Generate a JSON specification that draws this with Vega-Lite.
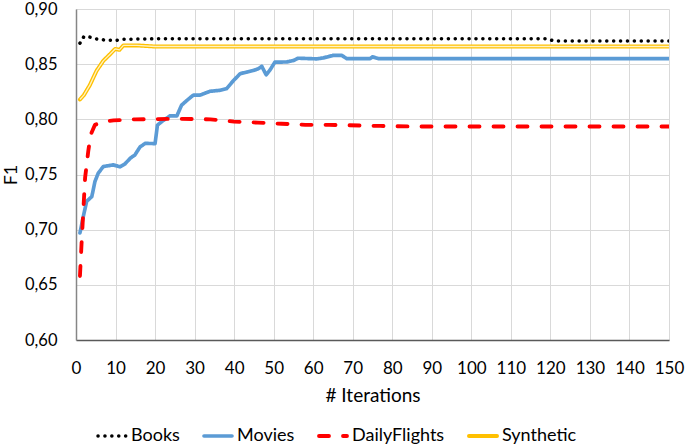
{
  "$schema": "https://vega.github.io/schema/vega-lite/v6.json",
  "width": 593,
  "height": 331,
  "autosize": "none",
  "padding": {"left": 76, "top": 9, "right": 16, "bottom": 106},
  "background": "white",
  "config": {
    "font": "Lato",
    "view": {"stroke": null},
    "axis": {"labelFont": "Lato", "titleFont": "Lato", "labelColor": "#000000", "titleColor": "#000000", "titleFontWeight": "normal", "gridColor": "#D9D9D9", "gridWidth": 1, "ticks": false}
  },
  "data": {"values": [
    {"s": "Books", "x": 1, "v": 0.869},
    {"s": "Books", "x": 2, "v": 0.875},
    {"s": "Books", "x": 3, "v": 0.875},
    {"s": "Books", "x": 5, "v": 0.873},
    {"s": "Books", "x": 7, "v": 0.872},
    {"s": "Books", "x": 10, "v": 0.8715},
    {"s": "Books", "x": 12, "v": 0.8725},
    {"s": "Books", "x": 20, "v": 0.873},
    {"s": "Books", "x": 119, "v": 0.873},
    {"s": "Books", "x": 121, "v": 0.871},
    {"s": "Books", "x": 150, "v": 0.871},

    {"s": "Movies", "x": 1, "v": 0.697},
    {"s": "Movies", "x": 1.85, "v": 0.712},
    {"s": "Movies", "x": 2.7, "v": 0.7257},
    {"s": "Movies", "x": 4, "v": 0.730},
    {"s": "Movies", "x": 4.8, "v": 0.7437},
    {"s": "Movies", "x": 5.6, "v": 0.751},
    {"s": "Movies", "x": 6.9, "v": 0.7572},
    {"s": "Movies", "x": 9.4, "v": 0.7587},
    {"s": "Movies", "x": 11.1, "v": 0.757},
    {"s": "Movies", "x": 12.4, "v": 0.7596},
    {"s": "Movies", "x": 13.7, "v": 0.7647},
    {"s": "Movies", "x": 14.9, "v": 0.7677},
    {"s": "Movies", "x": 16.2, "v": 0.775},
    {"s": "Movies", "x": 17.5, "v": 0.7782},
    {"s": "Movies", "x": 20, "v": 0.778},
    {"s": "Movies", "x": 20.6, "v": 0.7948},
    {"s": "Movies", "x": 22.1, "v": 0.799},
    {"s": "Movies", "x": 23.8, "v": 0.8032},
    {"s": "Movies", "x": 25.5, "v": 0.803},
    {"s": "Movies", "x": 26.7, "v": 0.8128},
    {"s": "Movies", "x": 28, "v": 0.817},
    {"s": "Movies", "x": 29.7, "v": 0.822},
    {"s": "Movies", "x": 31.4, "v": 0.822},
    {"s": "Movies", "x": 33.9, "v": 0.8254},
    {"s": "Movies", "x": 36.4, "v": 0.8263},
    {"s": "Movies", "x": 38.1, "v": 0.8278},
    {"s": "Movies", "x": 39.8, "v": 0.835},
    {"s": "Movies", "x": 41.5, "v": 0.8413},
    {"s": "Movies", "x": 43.2, "v": 0.8428},
    {"s": "Movies", "x": 44.9, "v": 0.8443},
    {"s": "Movies", "x": 46.1, "v": 0.8458},
    {"s": "Movies", "x": 47, "v": 0.848},
    {"s": "Movies", "x": 48.1, "v": 0.8404},
    {"s": "Movies", "x": 49, "v": 0.8443},
    {"s": "Movies", "x": 50.3, "v": 0.8518},
    {"s": "Movies", "x": 53.3, "v": 0.852},
    {"s": "Movies", "x": 55, "v": 0.8533},
    {"s": "Movies", "x": 56.2, "v": 0.8554},
    {"s": "Movies", "x": 60.9, "v": 0.8548},
    {"s": "Movies", "x": 62.6, "v": 0.8557},
    {"s": "Movies", "x": 65.1, "v": 0.858},
    {"s": "Movies", "x": 67.2, "v": 0.858},
    {"s": "Movies", "x": 68.5, "v": 0.855},
    {"s": "Movies", "x": 74.4, "v": 0.855},
    {"s": "Movies", "x": 75, "v": 0.8566},
    {"s": "Movies", "x": 76.5, "v": 0.855},
    {"s": "Movies", "x": 150, "v": 0.855},

    {"s": "DailyFlights", "x": 1, "v": 0.658},
    {"s": "DailyFlights", "x": 1.4, "v": 0.687},
    {"s": "DailyFlights", "x": 1.85, "v": 0.717},
    {"s": "DailyFlights", "x": 2.3, "v": 0.747},
    {"s": "DailyFlights", "x": 3.1, "v": 0.771},
    {"s": "DailyFlights", "x": 3.7, "v": 0.786},
    {"s": "DailyFlights", "x": 4.8, "v": 0.795},
    {"s": "DailyFlights", "x": 7, "v": 0.798},
    {"s": "DailyFlights", "x": 9.5, "v": 0.799},
    {"s": "DailyFlights", "x": 15, "v": 0.800},
    {"s": "DailyFlights", "x": 26, "v": 0.8005},
    {"s": "DailyFlights", "x": 34, "v": 0.800},
    {"s": "DailyFlights", "x": 40, "v": 0.798},
    {"s": "DailyFlights", "x": 46, "v": 0.797},
    {"s": "DailyFlights", "x": 52, "v": 0.796},
    {"s": "DailyFlights", "x": 58, "v": 0.795},
    {"s": "DailyFlights", "x": 64, "v": 0.795},
    {"s": "DailyFlights", "x": 77, "v": 0.794},
    {"s": "DailyFlights", "x": 85, "v": 0.7935},
    {"s": "DailyFlights", "x": 150, "v": 0.7935},

    {"s": "Synthetic", "x": 1, "v": 0.818},
    {"s": "Synthetic", "x": 2, "v": 0.822},
    {"s": "Synthetic", "x": 3.5, "v": 0.831},
    {"s": "Synthetic", "x": 5.2, "v": 0.844},
    {"s": "Synthetic", "x": 6.9, "v": 0.853},
    {"s": "Synthetic", "x": 8.6, "v": 0.859},
    {"s": "Synthetic", "x": 9.9, "v": 0.8638},
    {"s": "Synthetic", "x": 11, "v": 0.863},
    {"s": "Synthetic", "x": 12, "v": 0.867},
    {"s": "Synthetic", "x": 15.4, "v": 0.867},
    {"s": "Synthetic", "x": 20, "v": 0.866},
    {"s": "Synthetic", "x": 150, "v": 0.866}
  ]},
  "encoding": {
    "x": {"field": "x", "type": "quantitative",
      "scale": {"domain": [0, 150], "nice": false},
      "axis": {"values": [0,10,20,30,40,50,60,70,80,90,100,110,120,130,140,150], "title": "# Iterations", "titleFontSize": 19, "labelFontSize": 17, "labelPadding": 20, "titlePadding": 10, "domainColor": "#595959", "domainWidth": 1.5, "labelFlush": false}},
    "y": {"field": "v", "type": "quantitative",
      "scale": {"domain": [0.6, 0.9], "nice": false, "zero": false},
      "axis": {"values": [0.6,0.65,0.7,0.75,0.8,0.85,0.9], "labelExpr": "replace(format(datum.value, '.2f'), '.', ',')", "title": "F1", "titleFontSize": 18, "labelFontSize": 16.5, "labelPadding": 19, "titlePadding": 4, "domainColor": "#868686", "domainWidth": 1.5}}
  },
  "layer": [
    {
      "mark": {"type": "line", "strokeCap": "round", "strokeJoin": "round", "clip": true},
      "encoding": {
        "detail": {"field": "s"},
        "color": {"field": "s", "type": "nominal",
          "scale": {"domain": ["Books", "Movies", "DailyFlights", "Synthetic"], "range": ["#000000", "#5B9BD5", "#FF0000", "#FFC000"]},
          "legend": {"orient": "none", "legendX": 20, "legendY": 411, "direction": "horizontal", "title": null, "symbolType": "stroke", "symbolSize": 784, "labelFontSize": 18, "labelFont": "Lato", "labelColor": "#000000", "columnPadding": 16, "labelOffset": 3, "symbolStrokeWidth": 3.5,
            "encode": {"symbols": {"update": {"strokeCap": {"value": "round"}}}}}},
        "strokeDash": {"field": "s", "type": "nominal",
          "scale": {"domain": ["Books", "Movies", "DailyFlights", "Synthetic"], "range": [[0.1, 6.8], [1, 0], [10, 14], [1, 0]]}},
        "strokeWidth": {"field": "s", "type": "nominal",
          "scale": {"domain": ["Books", "Movies", "DailyFlights", "Synthetic"], "range": [3.5, 4, 4.2, 4]}}
      }
    },
    {
      "transform": [{"filter": "datum.s === 'Synthetic'"}],
      "mark": {"type": "line", "color": "#FFF3C4", "strokeWidth": 1.3, "strokeJoin": "round", "clip": true},
      "encoding": {}
    }
  ]
}
